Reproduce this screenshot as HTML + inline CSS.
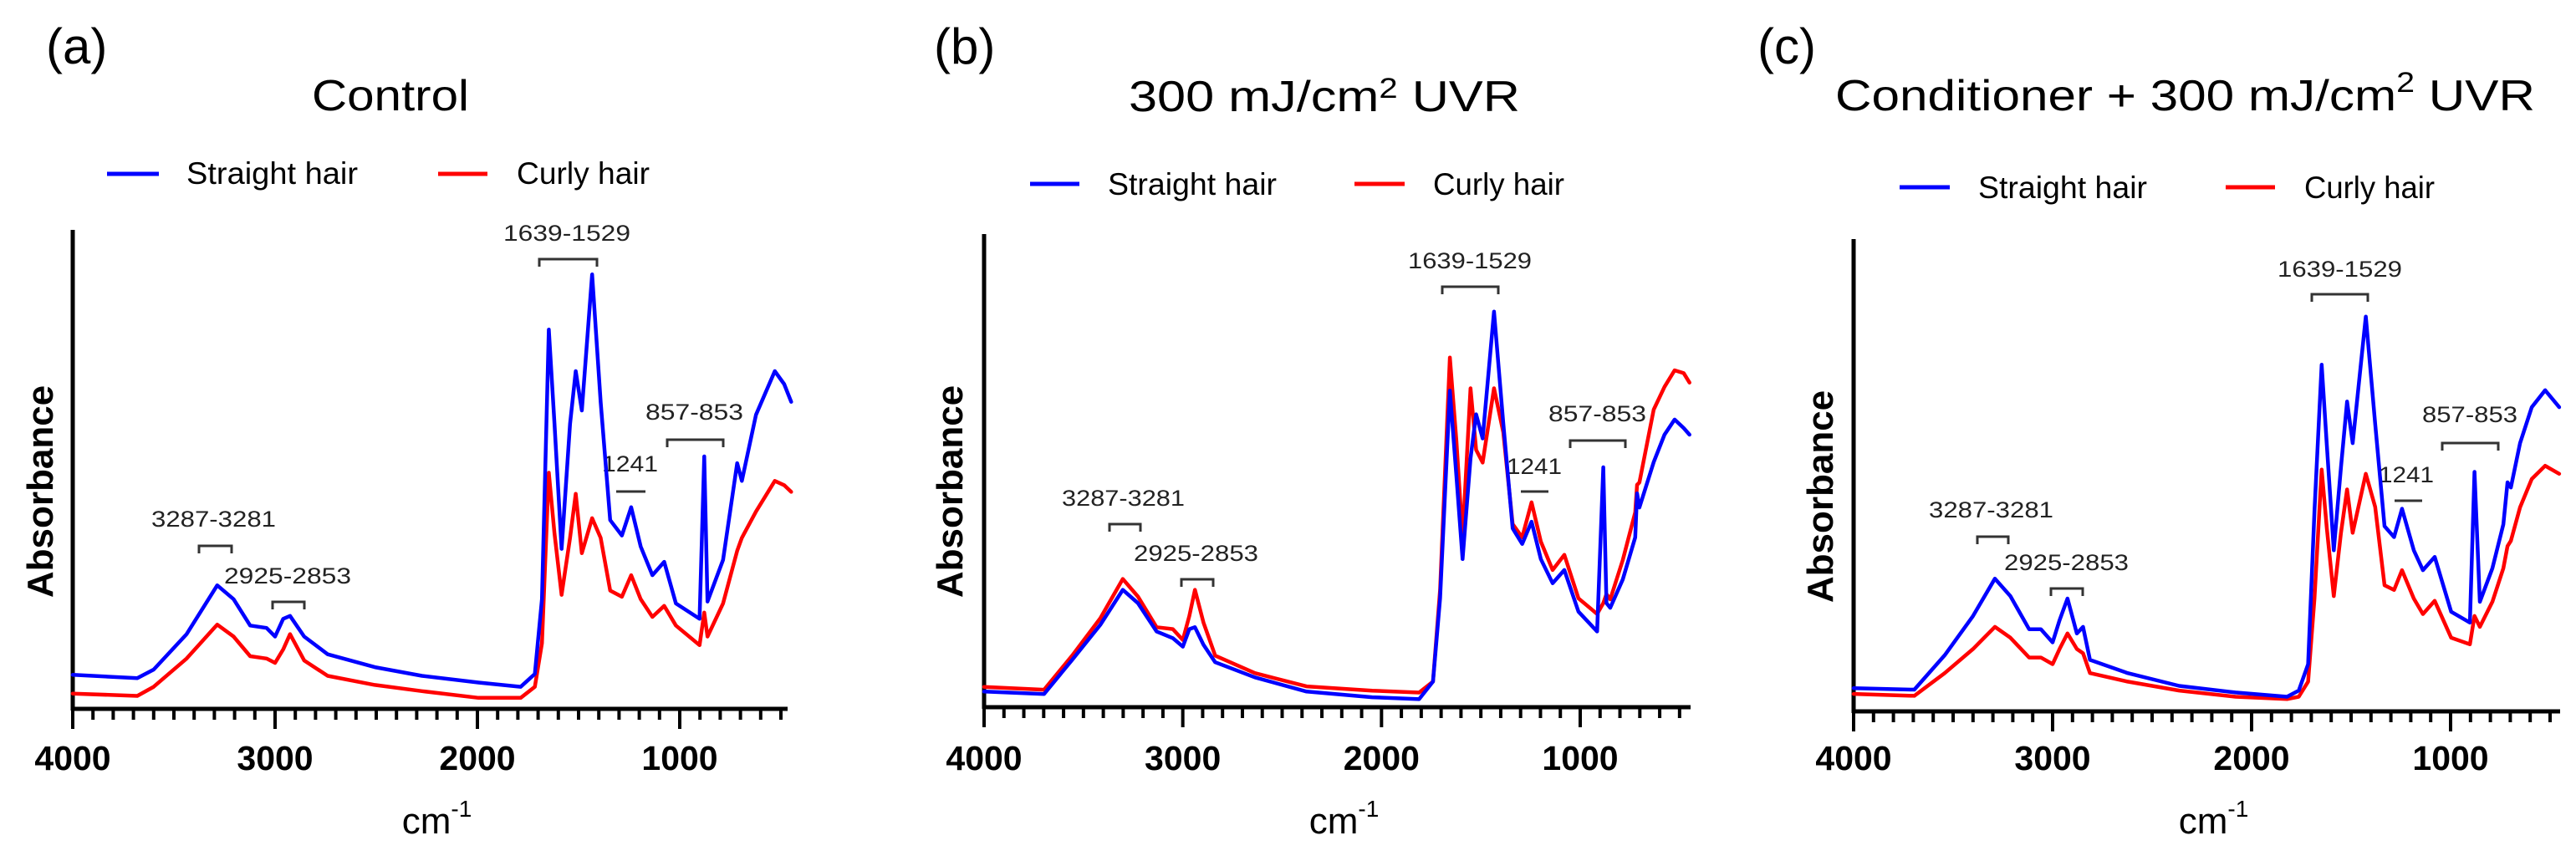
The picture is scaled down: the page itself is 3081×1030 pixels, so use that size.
<!DOCTYPE html>
<html><head><meta charset="utf-8"><style>
html,body{margin:0;padding:0;background:#fff;width:3081px;height:1030px;overflow:hidden}
svg{display:block;font-family:"Liberation Sans",Arial,sans-serif}
</style></head><body>
<svg id="fig" width="3081" height="1030" viewBox="0 0 3081 1030" xmlns="http://www.w3.org/2000/svg"></svg>
<script>
// ---- Panel (a) Control ----
const wnA = [4000,3681,3600,3437,3286,3205,3123,3042,3000,2960,2926,2856,2740,2507,2274,1995,1786,1716,1681,1647,1619,1584,1542,1514,1484,1433,1391,1344,1286,1240,1193,1135,1077,1019,902,879,863,786,716,693,623,530,484,449];
const straightA = [.071,.064,.082,.156,.258,.229,.174,.169,.151,.188,.194,.151,.114,.087,.069,.055,.046,.073,.229,.792,.595,.334,.595,.705,.623,.907,.641,.394,.362,.421,.339,.279,.307,.220,.188,.527,.224,.311,.513,.476,.614,.705,.678,.641];
const curlyA = [.032,.027,.046,.105,.176,.151,.110,.105,.096,.124,.156,.101,.069,.050,.037,.023,.023,.046,.137,.493,.366,.238,.357,.449,.325,.398,.357,.247,.234,.279,.229,.192,.215,.174,.133,.201,.151,.220,.330,.357,.412,.476,.467,.453];
// ---- Panel (b) 300 mJ/cm2 UVR ----
const wnB = [4000,3698,3557,3415,3302,3226,3132,3050,3000,2967,2939,2896,2837,2637,2377,2047,1811,1741,1705,1656,1623,1592,1552,1524,1491,1434,1387,1340,1292,1245,1198,1139,1080,1009,915,884,868,849,786,723,714,702,630,576,525,479,450];
const straightB = [.033,.028,.100,.174,.248,.220,.160,.146,.128,.165,.169,.132,.095,.063,.033,.021,.017,.054,.230,.669,.489,.313,.526,.619,.568,.836,.600,.378,.345,.392,.313,.262,.290,.202,.160,.507,.220,.210,.270,.359,.452,.422,.518,.576,.608,.590,.576];
const curlyB = [.043,.037,.109,.188,.271,.234,.169,.165,.142,.193,.248,.179,.109,.072,.044,.035,.031,.054,.248,.739,.563,.359,.674,.544,.517,.674,.581,.387,.359,.433,.350,.290,.322,.230,.197,.220,.239,.228,.311,.412,.470,.475,.629,.677,.712,.706,.686];
// ---- Panel (c) Conditioner + 300 mJ/cm2 UVR ----
const wnC = [4000,3695,3542,3400,3290,3212,3118,3059,3000,2965,2925,2878,2847,2812,2623,2364,2081,1822,1763,1716,1684,1648,1622,1587,1551,1520,1492,1426,1379,1332,1284,1244,1185,1139,1080,997,903,880,853,790,735,714,697,651,592,525,454];
const straightC = [.049,.046,.119,.202,.281,.244,.174,.174,.146,.193,.239,.165,.179,.109,.081,.054,.040,.031,.044,.100,.424,.734,.563,.341,.517,.656,.568,.836,.609,.392,.369,.429,.341,.299,.327,.211,.188,.507,.232,.303,.396,.485,.474,.568,.644,.680,.644];
const curlyC = [.037,.033,.081,.132,.179,.156,.114,.114,.100,.132,.165,.132,.123,.081,.063,.044,.031,.026,.031,.063,.239,.512,.387,.244,.378,.470,.378,.503,.433,.267,.257,.299,.239,.206,.234,.156,.142,.202,.179,.232,.303,.350,.361,.432,.492,.520,.503];
const xTickLabels = [4000,3000,2000,1000];
const seriesNames = ["Straight hair","Curly hair"];
const seriesColors = ["#0000ff","#ff0000"];

const NS="http://www.w3.org/2000/svg";
const svg=document.getElementById('fig');
function mk(tag,attrs,parent){const e=document.createElementNS(NS,tag);for(const k in attrs)e.setAttribute(k,attrs[k]);(parent||svg).appendChild(e);return e;}

const panels=[
 {id:'a',letter:'(a)',lx:55,ox:87,x1000:813,xEnd:942,top:275,bot:848,wn:wnA,s:straightA,c:curlyA,
  title:'Control',tx:373,tw:188,ty:132,
  leg:[128,190,223,205,524,583,618,159,208,220], ylab:48, ylabY:588,
  ann:[['1639-1529',602,152,288,645,714,310],['3287-3281',181,149,630,238,277,653],['2925-2853',268,152,698,326,364,720],['857-853',772,117,502,798,865,526]],
  bar:['1241',720,67,564,737,772,588]},
 {id:'b',letter:'(b)',lx:1117,ox:1177,x1000:1890,xEnd:2022,top:280,bot:846,wn:wnB,s:straightB,c:curlyB,
  title:'300 mJ/cm²',tx:1350,tw:0,ty:133,
  leg:[1232,1291,1325,202,1620,1680,1714,157,220,233], ylab:1136, ylabY:588,
  ann:[['1639-1529',1684,148,321,1725,1792,343],['3287-3281',1270,147,605,1327,1364,627],['2925-2853',1356,149,671,1413,1451,693],['857-853',1852,117,504,1878,1944,527]],
  bar:['1241',1802,66,567,1819,1852,588]},
 {id:'c',letter:'(c)',lx:2102,ox:2217,x1000:2931,xEnd:3062,top:286,bot:851,wn:wnC,s:straightC,c:curlyC,
  title:'Conditioner + 300 mJ/cm',tx:2195,tw:0,ty:132,
  leg:[2272,2332,2366,202,2662,2721,2756,156,224,237], ylab:2177, ylabY:594,
  ann:[['1639-1529',2724,149,331,2765,2832,352],['3287-3281',2307,149,619,2365,2402,642],['2925-2853',2397,149,682,2453,2491,704],['857-853',2897,114,505,2921,2988,530]],
  bar:['1241',2845,66,577,2864,2897,599]}
];

panels.forEach(p=>{
  const g=mk('g',{});
  
  
  const k=(p.x1000-p.ox)/3000;
  const xs=wn=>p.ox+(4000-wn)*k;
  const ys=a=>p.bot-a*(p.bot-p.top);
  // letter
  const L=mk('text',{x:p.lx,y:76,'font-size':60,fill:'#000'},g);L.textContent=p.letter;
  
  // title
  const T=mk('text',{x:p.tx,y:p.ty,'font-size':52,fill:'#000'},g);
  
  if(p.id==='a'){T.textContent='Control';T.setAttribute('textLength',188);T.setAttribute('lengthAdjust','spacingAndGlyphs');}
  else if(p.id==='b'){
    T.setAttribute('textLength',468);T.setAttribute('lengthAdjust','spacingAndGlyphs');
    T.textContent='';
    const t1=mk('tspan',{},T);t1.textContent='300 mJ/cm';
    const t2=mk('tspan',{dy:-16,'font-size':34},T);t2.textContent='2';
    const t3=mk('tspan',{dy:16},T);t3.textContent=' UVR';
  } else {
    T.setAttribute('textLength',837);T.setAttribute('lengthAdjust','spacingAndGlyphs');
    const t1=mk('tspan',{},T);t1.textContent='Conditioner + 300 mJ/cm';
    const t2=mk('tspan',{dy:-22,'font-size':34},T);t2.textContent='2';
    const t3=mk('tspan',{dy:22},T);t3.textContent=' UVR';
  }
  // legend
  const lg=p.leg;
  const lgG=mk('g',{},g);
  
  mk('line',{x1:lg[0],x2:lg[1],y1:lg[8],y2:lg[8],stroke:seriesColors[0],'stroke-width':5},lgG);
  const s1=mk('text',{x:lg[2],y:lg[9],'font-size':37,textLength:lg[3],lengthAdjust:'spacingAndGlyphs'},lgG);s1.textContent=seriesNames[0];
  
  mk('line',{x1:lg[4],x2:lg[5],y1:lg[8],y2:lg[8],stroke:seriesColors[1],'stroke-width':5},lgG);
  const s2=mk('text',{x:lg[6],y:lg[9],'font-size':37,textLength:lg[7],lengthAdjust:'spacingAndGlyphs'},lgG);s2.textContent=seriesNames[1];
  
  // y axis
  const ya=mk('line',{x1:p.ox,x2:p.ox,y1:p.top,y2:p.bot+2,stroke:'#000','stroke-width':5},g);
  
  const yl=mk('text',{x:p.ylab,y:p.ylabY,'font-size':44,'font-weight':'bold','text-anchor':'middle',transform:`rotate(-90 ${p.ylab} ${p.ylabY})`,dy:15},g);
  yl.textContent='Absorbance';
  
  // x axis
  const xa=mk('line',{x1:p.ox-2,x2:p.xEnd,y1:p.bot,y2:p.bot,stroke:'#000','stroke-width':5},g);
  
  for(let w=4000;w>=400;w-=100){
    const x=xs(w); if(x>p.xEnd+1)break;
    const major=w%1000===0;
    mk('line',{x1:x,x2:x,y1:p.bot,y2:p.bot+(major?24:13),stroke:'#000','stroke-width':4},g);
  }
  xTickLabels.forEach(v=>{
    const t=mk('text',{x:xs(v),y:921,'font-size':41,'font-weight':'bold','text-anchor':'middle'},g);
    t.textContent=v;
    
  });
  const cx=(p.ox+p.xEnd)/2+8;
  const xt=mk('text',{x:cx,y:997,'font-size':44,'text-anchor':'middle'},g);
  
  const x1=mk('tspan',{},xt);x1.textContent='cm';
  const x2=mk('tspan',{dy:-20,'font-size':28},xt);x2.textContent='-1';
  // annotations
  p.ann.forEach(a=>{
    const t=mk('text',{x:a[1],y:a[3],'font-size':27,textLength:a[2],lengthAdjust:'spacingAndGlyphs',fill:'#222'},g);
    t.textContent=a[0];
    
    mk('path',{d:`M${a[4]} ${a[6]+9}V${a[6]}H${a[5]}V${a[6]+9}`,fill:'none',stroke:'#333','stroke-width':3},g);
  });
  const b=p.bar;
  const bt=mk('text',{x:b[1],y:b[3],'font-size':27,textLength:b[2],lengthAdjust:'spacingAndGlyphs',fill:'#222'},g);
  bt.textContent=b[0];
  
  mk('line',{x1:b[4],x2:b[5],y1:b[6],y2:b[6],stroke:'#333','stroke-width':3},g);
  // series
  [[p.c,1,'curly'],[p.s,0,'straight']].forEach(([vals,ci,nm])=>{
    const pts=p.wn.map((w,i)=>xs(w).toFixed(1)+','+ys(vals[i]).toFixed(1)).join(' ');
    const pl=mk('polyline',{points:pts,fill:'none',stroke:seriesColors[ci],'stroke-width':4.5,'stroke-linejoin':'round','stroke-linecap':'round'},g);
    
    
  });
});
</script>
</body></html>
